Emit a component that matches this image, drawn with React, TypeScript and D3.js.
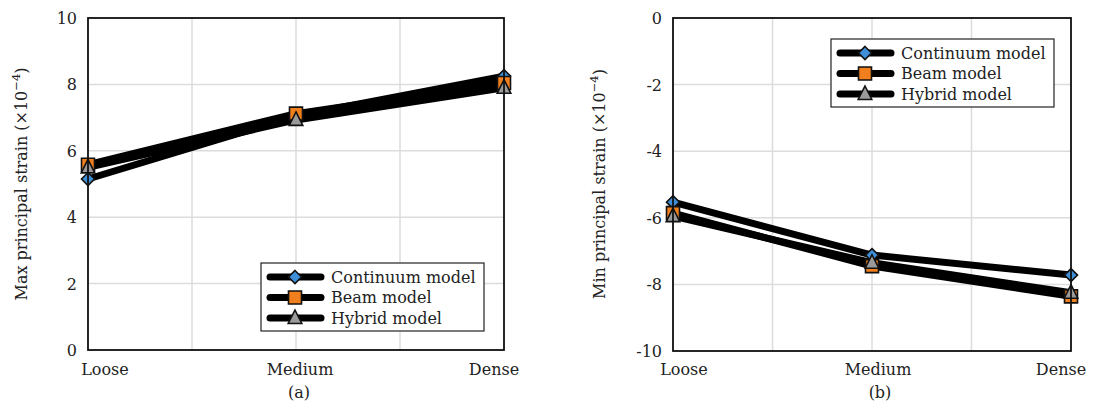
import React from 'react';
import * as d3 from 'd3';

const categories = ['Loose', 'Medium', 'Dense'];
const seriesNames = ['Continuum model', 'Beam model', 'Hybrid model'];
const seriesShapes = ['diamond', 'square', 'triangle'];
const seriesColors = ['#3f8fd8', '#f07f1e', '#9a9a9a'];

const maxContinuum = [5.15, 7.05, 8.25];
const maxBeam = [5.58, 7.12, 8.04];
const maxHybrid = [5.5, 6.93, 7.9];

const minContinuum = [-5.53, -7.12, -7.72];
const minBeam = [-5.86, -7.45, -8.36];
const minHybrid = [-5.95, -7.35, -8.25];

const maxTicks = [0, 2, 4, 6, 8, 10];
const minTicks = [-10, -8, -6, -4, -2, 0];

const FONT = 'DejaVu Serif, serif';
const FS = 16;

function Marker({ shape, x, y, color }: { shape: string; x: number; y: number; color: string }) {
  let d = '';
  if (shape === 'diamond') {
    const r = 6.5;
    d = `M${x},${y - r}L${x + r},${y}L${x},${y + r}L${x - r},${y}Z`;
  } else if (shape === 'square') {
    const r = 6.5;
    d = `M${x - r},${y - r}H${x + r}V${y + r}H${x - r}Z`;
  } else {
    const w = 6.8;
    d = `M${x},${y - 8}L${x + w},${y + 5.5}L${x - w},${y + 5.5}Z`;
  }
  return <path d={d} fill={color} stroke="#111" strokeWidth={1.6} strokeLinejoin="miter" />;
}

type PanelProps = {
  left: number; right: number; top: number; bottom: number;
  domain: [number, number]; ticks: number[];
  series: number[][]; yLabel: string; caption: string; captionX: number;
  legendX: number; legendY: number; labelDx: number[]; titleX: number;
};

function Panel(p: PanelProps) {
  const x = d3.scalePoint<string>().domain(categories).range([p.left, p.right]);
  const y = d3.scaleLinear().domain(p.domain).range([p.bottom, p.top]);
  const xs = categories.map((c) => x(c) as number);
  const mids = xs.slice(1).map((v, i) => (v + xs[i]) / 2);
  const line = d3.line<number>().x((_, i) => xs[i]).y((v) => y(v));
  const legW = 223, legH = 68;
  return (
    <g>
      {[...xs, ...mids].map((gx, i) => (
        <line key={'gx' + i} x1={gx} x2={gx} y1={p.top} y2={p.bottom} stroke="#dcdcdc" strokeWidth={1.5} />
      ))}
      {p.ticks.map((t) => (
        <line key={'gy' + t} x1={p.left} x2={p.right} y1={y(t)} y2={y(t)} stroke="#dcdcdc" strokeWidth={1.5} />
      ))}
      {p.series.map((s, i) => (
        <path key={'l' + i} d={line(s) || ''} fill="none" stroke="#000" strokeWidth={7} strokeLinejoin="round" />
      ))}
      {p.series.map((s, i) =>
        s.map((v, j) => <Marker key={'m' + i + j} shape={seriesShapes[i]} x={xs[j]} y={y(v)} color={seriesColors[i]} />)
      )}
      <rect x={p.left} y={p.top} width={p.right - p.left} height={p.bottom - p.top} fill="none" stroke="#111" strokeWidth={1.8} />
      {p.ticks.map((t) => (
        <text key={'yt' + t} x={p.left - 11} y={y(t) + 6} textAnchor="end" fontFamily={FONT} fontSize={FS} fill="#222">
          {String(t)}
        </text>
      ))}
      {categories.map((c, i) => (
        <text key={'xt' + c} x={xs[i] + p.labelDx[i]} y={375} textAnchor="middle" fontFamily={FONT} fontSize={FS} fill="#222">
          {c}
        </text>
      ))}
      <text x={p.captionX} y={398} textAnchor="middle" fontFamily={FONT} fontSize={FS} fill="#222">{p.caption}</text>
      <text transform={`translate(${p.titleX},184) rotate(-90)`} textAnchor="middle" fontFamily={FONT} fontSize={FS} fill="#222">
        {p.yLabel} (×10<tspan dy={-7} fontSize={11.5}>−4</tspan><tspan dy={7}>)</tspan>
      </text>
      <rect x={p.legendX} y={p.legendY} width={legW} height={legH} fill="#fff" stroke="#222" strokeWidth={1.2} />
      {seriesNames.map((n, i) => {
        const ry = p.legendY + 14 + i * 20.5;
        return (
          <g key={'lg' + i}>
            <line x1={p.legendX + 9} x2={p.legendX + 60} y1={ry} y2={ry} stroke="#000" strokeWidth={7} strokeLinecap="round" />
            <Marker shape={seriesShapes[i]} x={p.legendX + 34} y={ry} color={seriesColors[i]} />
            <text x={p.legendX + 70} y={ry + 5.5} fontFamily={FONT} fontSize={FS} fill="#222">{n}</text>
          </g>
        );
      })}
    </g>
  );
}

export default function App() {
  return (
    <svg width={1094} height={409} style={{ position: 'absolute', left: 0, top: 0, background: '#fff' }}>
      <rect width={1094} height={409} fill="#fff" />
      <Panel left={88} right={504} top={18} bottom={350} domain={[0, 10]} ticks={maxTicks}
        series={[maxContinuum, maxBeam, maxHybrid]} yLabel="Max principal strain" caption="(a)" captionX={299}
        legendX={261} legendY={263} labelDx={[17, 4, -10]} titleX={27} />
      <Panel left={673} right={1071} top={18} bottom={351} domain={[-10, 0]} ticks={minTicks}
        series={[minContinuum, minBeam, minHybrid]} yLabel="Min principal strain" caption="(b)" captionX={880}
        legendX={831} legendY={39} labelDx={[11, 6, -10]} titleX={605} />
    </svg>
  );
}
